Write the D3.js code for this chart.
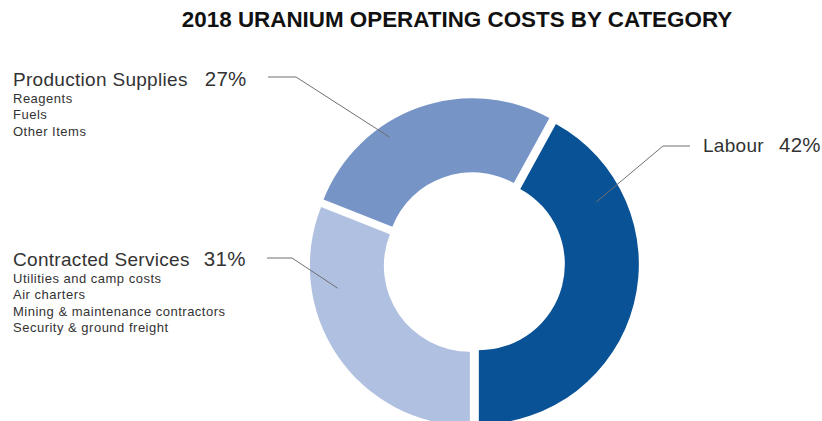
<!DOCTYPE html>
<html>
<head>
<meta charset="utf-8">
<script src="https://cdn.jsdelivr.net/npm/d3@7"></script>
<style>
  html, body { margin: 0; padding: 0; background: #fff; }
  svg { display: block; }
  text { font-family: "Liberation Sans", Arial, Helvetica, sans-serif; }
</style>
</head>
<body>
<svg id="chart" width="822" height="421"></svg>
<script>
// ---- data ----
const title = "2018 URANIUM OPERATING COSTS BY CATEGORY";
const categories = ["Labour", "Contracted Services", "Production Supplies"];
const values = [42, 31, 27];
const details = [
  [],
  ["Utilities and camp costs", "Air charters", "Mining & maintenance contractors", "Security & ground freight"],
  ["Reagents", "Fuels", "Other Items"]
];
const colors = ["#0a5296", "#b0c0e0", "#7694c6"];

// ---- layout ----
const W = 822, H = 421;
const cx = 474, cy = 263, R = 160, r = 86, explode = 5;
const labelLayout = [
  { x: 703, y: 152, gap: 15, lineFrom: [690, 146], elbow: [663, 146], frac: 0.22, rad: 133 },
  { x: 13, y: 266, gap: 14, lineFrom: [267, 258], elbow: [292, 258], frac: 0.72, rad: 134 },
  { x: 13, y: 86, gap: 17, lineFrom: [268, 77], elbow: [296, 77], frac: 0.35, rad: 147 }
];

const svg = d3.select("#chart");

svg.append("text")
  .attr("x", 457).attr("y", 27)
  .attr("text-anchor", "middle")
  .attr("font-size", 22.4).attr("font-weight", "bold")
  .attr("fill", "#111")
  .text(title);

const data = categories.map((c, i) => ({ name: c, value: values[i], details: details[i], i }));

const startA = Math.PI - (values[0] / d3.sum(values)) * 2 * Math.PI;
const pie = d3.pie().value(d => d.value).sort(null)
  .startAngle(startA).endAngle(startA + 2 * Math.PI);
const arcs = pie(data);

const arc = d3.arc().innerRadius(r).outerRadius(R);

const g = svg.append("g").attr("transform", `translate(${cx},${cy})`);

function offset(a) {
  const m = (a.startAngle + a.endAngle) / 2;
  return [Math.sin(m) * explode, -Math.cos(m) * explode];
}

g.selectAll("path.slice")
  .data(arcs)
  .join("path")
  .attr("class", "slice")
  .attr("d", arc)
  .attr("transform", d => { const o = offset(d); return `translate(${o[0]},${o[1]})`; })
  .attr("fill", d => colors[d.data.i]);

// leader lines
arcs.forEach(a => {
  const L = labelLayout[a.data.i];
  const o = offset(a);
  const ang = a.startAngle + (a.endAngle - a.startAngle) * L.frac;
  const ex = cx + o[0] + Math.sin(ang) * L.rad;
  const ey = cy + o[1] - Math.cos(ang) * L.rad;
  svg.append("polyline")
    .attr("points", [L.lineFrom, L.elbow, [ex, ey]].map(p => p.join(",")).join(" "))
    .attr("fill", "none")
    .attr("stroke", "#707070")
    .attr("stroke-width", 1);
});

// labels
arcs.forEach(a => {
  const L = labelLayout[a.data.i];
  const t = svg.append("text")
    .attr("x", L.x).attr("y", L.y)
    .attr("font-size", 19)
    .attr("letter-spacing", 0.3)
    .attr("fill", "#333");
  t.append("tspan").text(a.data.name);
  t.append("tspan").attr("dx", L.gap).attr("font-size", 20.5).text(a.data.value + "%");
  a.data.details.forEach((s, k) => {
    svg.append("text")
      .attr("x", L.x).attr("y", L.y + 17 + k * 16.3)
      .attr("font-size", 13)
      .attr("letter-spacing", 0.5)
      .attr("fill", "#333")
      .text(s);
  });
});
</script>
</body>
</html>
